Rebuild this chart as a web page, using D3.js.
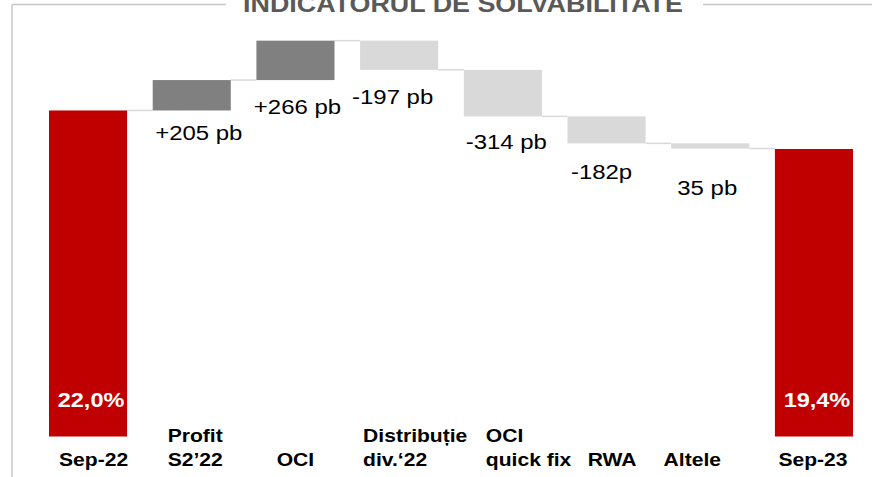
<!DOCTYPE html>
<html><head><meta charset="utf-8">
<script src="https://cdn.jsdelivr.net/npm/d3@7"></script>
<style>body{margin:0;background:#fff}svg{display:block}</style>
</head><body>
<svg id="c" width="872" height="477"></svg>
<script>
// ---- data ----
const title = "INDICATORUL DE SOLVABILITATE";
const categories = ["Sep-22", "Profit S2’22", "OCI", "Distribuție div.‘22", "OCI quick fix", "RWA", "Altele", "Sep-23"];
const categoryLines = [["Sep-22"], ["Profit", "S2’22"], ["OCI"], ["Distribuție", "div.‘22"], ["OCI", "quick fix"], ["RWA"], ["Altele"], ["Sep-23"]];
const startValue = 22.0;           // %
const changesPb = [205, 266, -197, -314, -182, -35]; // basis points
const endValue = 19.4;             // %
const valueLabels = ["22,0%", "+205 pb", "+266 pb", "-197 pb", "-314 pb", "-182p", "35 pb", "19,4%"];

// ---- layout constants ----
const W = 872, H = 477;
const FONT = "'Liberation Sans', Arial, sans-serif";
const colTotal = "#c00000", colUp = "#808080", colDown = "#d9d9d9", colConn = "#d9d9d9";
const valDx = [0, 7, 2, -6.5, 3.5, -5, -3, 0];
const valDy = [0, -3, 1, 1, 0, 3, 13, 0];
const catDx = [5.5, 15, 0, 3, 22, 5.5, -18, -1]; // for multi-line: offset from band start; else from center

// ---- build bars ----
const bars = [];
bars.push({cat: categories[0], lo: 0, hi: startValue, kind: "total", end: startValue});
let run = startValue;
changesPb.forEach((d, i) => {
  const next = run + d / 100;
  bars.push({cat: categories[i + 1], lo: Math.min(run, next), hi: Math.max(run, next), kind: d >= 0 ? "up" : "down", end: next});
  run = next;
});
bars.push({cat: categories[categories.length - 1], lo: 0, hi: endValue, kind: "total", end: endValue});

const svg = d3.select("#c");
const x = d3.scaleBand().domain(categories).range([49, 853]).paddingInner(0.247).paddingOuter(0);
const y = d3.scaleLinear().domain([0, 29]).range([436.5, 436.5 - 29 * 14.82]);

// frame
svg.append("line").attr("x1", 12).attr("x2", 12).attr("y1", 4.5).attr("y2", H)
  .attr("stroke", "#c8c8c8").attr("stroke-width", 1.5);
svg.append("line").attr("x1", 12).attr("x2", 226).attr("y1", 4.5).attr("y2", 4.5)
  .attr("stroke", "#c8c8c8").attr("stroke-width", 1.5);
svg.append("line").attr("x1", 703).attr("x2", W).attr("y1", 4.5).attr("y2", 4.5)
  .attr("stroke", "#c8c8c8").attr("stroke-width", 1.5);

function stext(parent, tx, ty, sx, str, opts) {
  const g = parent.append("g").attr("transform", `translate(${tx},${ty}) scale(${sx},1)`);
  return g.append("text").attr("x", 0).attr("y", 0)
    .attr("font-family", FONT)
    .attr("font-size", opts.size)
    .attr("font-weight", opts.weight || "normal")
    .attr("fill", opts.fill || "#000")
    .attr("text-anchor", opts.anchor || "middle")
    .text(str);
}

// title
stext(svg, 463, 12, 1.12, title, {size: 24, weight: "bold", fill: "#595959"});

// connectors
for (let i = 0; i < bars.length - 1; i++) {
  const lvl = y(bars[i].end);
  svg.append("line")
    .attr("x1", x(bars[i].cat) + x.bandwidth()).attr("x2", x(bars[i + 1].cat))
    .attr("y1", lvl).attr("y2", lvl)
    .attr("stroke", colConn).attr("stroke-width", 1.5);
}

// bars
svg.selectAll("rect.bar").data(bars).join("rect").attr("class", "bar")
  .attr("x", d => x(d.cat)).attr("width", x.bandwidth())
  .attr("y", d => y(d.hi)).attr("height", d => y(d.lo) - y(d.hi))
  .attr("fill", d => d.kind === "total" ? colTotal : d.kind === "up" ? colUp : colDown);

// value labels
bars.forEach((d, i) => {
  const cx = x(d.cat) + x.bandwidth() / 2;
  if (d.kind === "total") {
    stext(svg, cx + (i === 0 ? 3 : 3), 406.5, 1.12, valueLabels[i], {size: 21, weight: "bold", fill: "#fff"});
  } else {
    stext(svg, cx + valDx[i], y(d.lo) + 33 + valDy[i], 1.14, valueLabels[i], {size: 21});
  }
});

// category labels
categoryLines.forEach((lines, i) => {
  const cat = categories[i];
  if (lines.length === 1) {
    stext(svg, x(cat) + x.bandwidth() / 2 + catDx[i], 465.5, 1.11, lines[0], {size: 19, weight: "bold"});
  } else {
    lines.forEach((ln, j) => {
      stext(svg, x(cat) + catDx[i], 465.5 - (lines.length - 1 - j) * 23.5, 1.11, ln, {size: 19, weight: "bold", anchor: "start"});
    });
  }
});
</script>
</body></html>
